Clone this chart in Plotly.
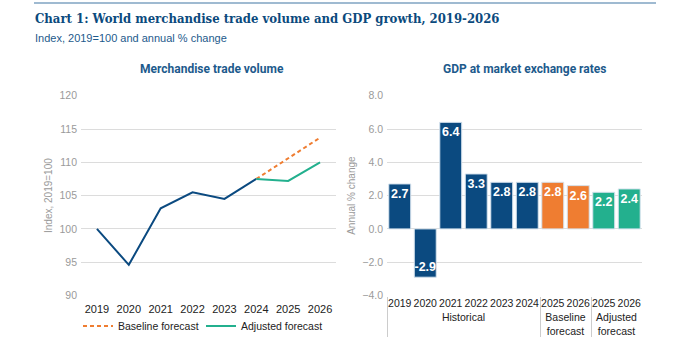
import plotly.graph_objects as go

# ---- data ----
years = [2019, 2020, 2021, 2022, 2023, 2024, 2025, 2026]
trade_hist_years = [2019, 2020, 2021, 2022, 2023, 2024]
trade_hist = [100.0, 94.6, 103.1, 105.5, 104.5, 107.5]
fc_years = [2024, 2025, 2026]
trade_baseline = [107.5, 110.6, 113.7]
trade_adjusted = [107.5, 107.2, 110.0]

gdp_groups = ["Historical"] * 6 + ["Baseline<br>forecast"] * 2 + ["Adjusted<br>forecast"] * 2
gdp_years = ["2019", "2020", "2021", "2022", "2023", "2024", "2025", "2026", "2025", "2026"]
gdp_values = [2.7, -2.9, 6.4, 3.3, 2.8, 2.8, 2.8, 2.6, 2.2, 2.4]

BLUE = "#0b4a80"
ORANGE = "#ef7d31"
TEAL = "#23b08e"
gdp_colors = [BLUE] * 6 + [ORANGE] * 2 + [TEAL] * 2

W, H = 695, 353
def fx(px): return px / W
def fy(py): return 1 - py / H

fig = go.Figure()

fig.add_trace(go.Scatter(x=trade_hist_years, y=trade_hist, mode="lines",
                         line=dict(color=BLUE, width=2), showlegend=False,
                         xaxis="x", yaxis="y"))
fig.add_trace(go.Scatter(x=fc_years, y=trade_baseline, mode="lines",
                         line=dict(color=ORANGE, width=2, dash="4px,3px"),
                         name="Baseline forecast", xaxis="x", yaxis="y", legend="legend"))
fig.add_trace(go.Scatter(x=fc_years, y=trade_adjusted, mode="lines",
                         line=dict(color=TEAL, width=2),
                         name="Adjusted forecast", xaxis="x", yaxis="y", legend="legend2"))

fig.add_trace(go.Bar(x=[gdp_groups, gdp_years], y=gdp_values,
                     marker=dict(color=gdp_colors, line=dict(color="#d6e3ee", width=1)),
                     text=[f"{v:.1f}" for v in gdp_values], textposition="inside",
                     insidetextanchor="end", textangle=0, constraintext="none",
                     textfont=dict(color="white", size=12.5, family="Liberation Sans", weight="bold"),
                     showlegend=False, xaxis="x2", yaxis="y2"))

grid = "#dcdcdc"
tickgrey = "#9a9a9a"
legend_common = dict(orientation="h", xanchor="left", yanchor="middle",
                     font=dict(size=10.5, color="#222"), itemwidth=30,
                     bgcolor="rgba(0,0,0,0)")
fig.update_layout(
    width=W, height=H,
    margin=dict(l=0, r=0, t=0, b=0),
    paper_bgcolor="white", plot_bgcolor="white",
    font=dict(family="Liberation Sans", size=11, color="#222"),
    bargap=0.14,
    xaxis=dict(domain=[fx(81), fx(336)], range=[2018.5, 2026.5],
               tickvals=years, ticktext=[str(y) for y in years], automargin=False,
               showgrid=False, zeroline=False, showline=False, ticklabelstandoff=5,
               tickfont=dict(size=11, color="#222"), ticks="", ticklen=0),
    yaxis=dict(domain=[fy(295.5), fy(95.7)], range=[90, 120], dtick=5, automargin=False,
               gridcolor=grid, zeroline=False, showline=False, ticklabelstandoff=3,
               tickfont=dict(size=10.5, color=tickgrey), ticks="",
               title=dict(text="Index, 2019=100", font=dict(size=10, color=tickgrey), standoff=4)),
    xaxis2=dict(domain=[fx(387), fx(642)], type="multicategory", automargin=False,
                showgrid=False, zeroline=False, showline=False, tickangle=0,
                showdividers=True, dividercolor="#cccccc", dividerwidth=1,
                ticks="", tickfont=dict(size=10.5, color="#222")),
    yaxis2=dict(domain=[fy(295.5), fy(95.7)], range=[-4, 8], dtick=2, tickformat=".1f",
                gridcolor=grid, zeroline=False, showline=False, automargin=False,
                tickfont=dict(size=10.5, color=tickgrey), ticks="", ticklabelstandoff=3,
                title=dict(text="Annual % change", font=dict(size=10, color=tickgrey), standoff=4)),
    legend=dict(x=fx(78), y=fy(326), **legend_common),
    legend2=dict(x=fx(201), y=fy(326), **legend_common),
)
fig.layout.xaxis2.anchor = "y2"
fig.layout.yaxis2.anchor = "x2"

# titles
fig.add_annotation(text="<b>Chart 1: World merchandise trade volume and GDP growth, 2019-2026</b>",
                   xref="paper", yref="paper", x=fx(33), y=fy(18), xanchor="left", yanchor="middle",
                   showarrow=False, font=dict(family="DejaVu Serif Condensed, DejaVu Serif", size=13, color="#0b4a7d"))
fig.add_annotation(text="Index, 2019=100 and annual % change",
                   xref="paper", yref="paper", x=fx(33), y=fy(38), xanchor="left", yanchor="middle",
                   showarrow=False, font=dict(family="Liberation Sans", size=11, color="#1d5a8c"))
fig.add_annotation(text="<b>Merchandise trade volume</b>",
                   xref="paper", yref="paper", x=fx(212), y=fy(69), xanchor="center", yanchor="middle",
                   showarrow=False, font=dict(family="Roboto", size=12, color="#1d5a8c"))
fig.add_annotation(text="<b>GDP at market exchange rates</b>",
                   xref="paper", yref="paper", x=fx(524), y=fy(69), xanchor="center", yanchor="middle",
                   showarrow=False, font=dict(family="Roboto", size=12, color="#1d5a8c"))
fig.add_shape(type="line", xref="paper", yref="paper", x0=fx(34), x1=fx(656), y0=fy(3), y1=fy(3),
              line=dict(color="#7fa3c2", width=1.5))

fig.write_html("out.html")
